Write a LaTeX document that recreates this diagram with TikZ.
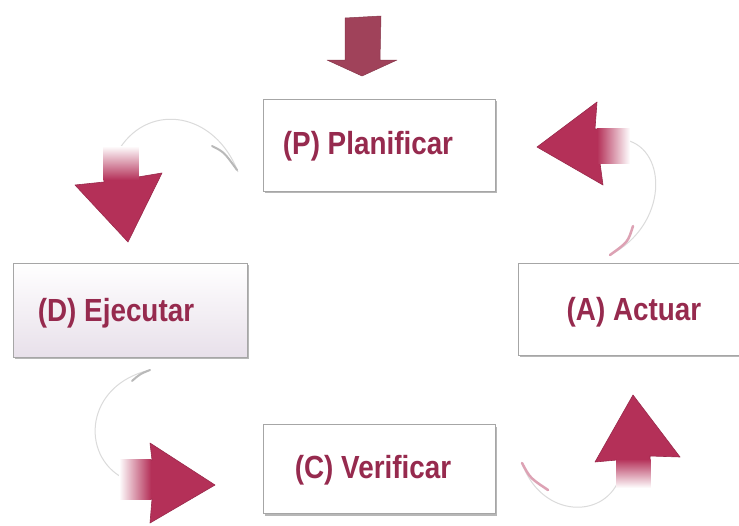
\documentclass[tikz,border=0pt]{standalone}
\usepackage{fontspec}
\newfontfamily\lblfont{Liberation Sans}[FakeStretch=0.87]
\usetikzlibrary{shadows}
\definecolor{txtc}{RGB}{150,42,78}
\definecolor{arrc}{RGB}{180,48,88}
\definecolor{toparr}{RGB}{160,66,90}
\definecolor{lavender}{RGB}{232,224,234}
\begin{document}
\begin{tikzpicture}[x=1pt,y=-1pt,
  stagebox/.style={draw=gray!70, line width=0.9pt, fill=white, inner sep=0pt,
    drop shadow={shadow xshift=1.8pt, shadow yshift=-2pt, fill=gray!80, opacity=0.7}},
  lbl/.style={font=\lblfont\bfseries\fontsize{32}{36}\selectfont, text=txtc, inner sep=0pt},
  arrowfill/.style={fill=arrc, draw=arrc!85!black, line width=0.6pt, line join=round},
  ribbon/.style={draw=gray!28, line width=1pt},
  ribbontail/.style={draw=gray!55, line width=2pt, line cap=round},
  pinktail/.style={draw=arrc!45, line width=2.5pt, line cap=round}]
\clip (0,0) rectangle (739,525);
\fill[white] (0,0) rectangle (739,525);

% faint ribbons of the cycle
\draw[ribbon] (238,172) .. controls (215,112) and (150,102) .. (120,148);
\draw[ribbontail] (212,146) .. controls (224,152) .. (237,170);
\draw[ribbon] (626,140) .. controls (668,150) and (668,225) .. (610,255);
\draw[pinktail] (633,226) .. controls (628,242) .. (610,255);
\draw[ribbon] (123,478) .. controls (80,455) and (85,385) .. (150,370);
\draw[ribbontail] (132,381) .. controls (140,374) .. (150,370);
\draw[ribbon] (617,484) .. controls (598,520) and (540,515) .. (522,463);
\draw[pinktail] (522,463) .. controls (530,478) .. (548,490);

% boxes
\node[stagebox, minimum width=232pt, minimum height=92pt] (P) at (379,145) {};
\node[stagebox, minimum width=234pt, minimum height=94pt,
      top color=white, bottom color=lavender] (D) at (130,310) {};
\node[stagebox, minimum width=232pt, minimum height=92pt] (A) at (634,309) {};
\node[stagebox, minimum width=232pt, minimum height=89pt] (C) at (379,469) {};

\node[lbl] (Pt) at (368,146) {(P) Planificar};
\node[lbl] (Dt) at (116,313) {(D) Ejecutar};
\node[lbl] (At) at (634,312) {(A) Actuar};
\node[lbl] (Ct) at (373,470) {(C) Verificar};

% top entry arrow
\filldraw[fill=toparr, draw=toparr!85!black, line width=0.5pt, line join=round]
  (345,18) -- (381,16) -- (380,60) -- (397,60) -- (362,76) -- (327,60) -- (345,60) -- cycle;

% P -> D (down)
\filldraw[arrowfill] (104,150) -- (138,150) -- (138,177) -- (162,173) -- (128,242)
  -- (75,185) -- (104,182) -- cycle;
\shade[top color=white, bottom color=arrc] (103.5,146) rectangle (138.5,180);

% A -> P (left)
\filldraw[arrowfill] (537,147) -- (597,102) -- (595,129) -- (627,129) -- (627,163)
  -- (600,163) -- (603,185) -- cycle;
\shade[left color=arrc, right color=white] (597,128.5) rectangle (630,163.5);

% D -> C (right)
\filldraw[arrowfill] (215,485) -- (150,523) -- (152,499) -- (122,499) -- (122,460)
  -- (152,460) -- (150,443) -- cycle;
\shade[left color=white, right color=arrc] (119,459.5) rectangle (151,499.5);

% C -> A (up)
\filldraw[arrowfill] (633,395) -- (680,457) -- (650,456) -- (650,485) -- (617,485)
  -- (617,460) -- (595,462) -- cycle;
\shade[top color=arrc, bottom color=white] (616.5,459) rectangle (650.5,488);
\end{tikzpicture}
\end{document}
